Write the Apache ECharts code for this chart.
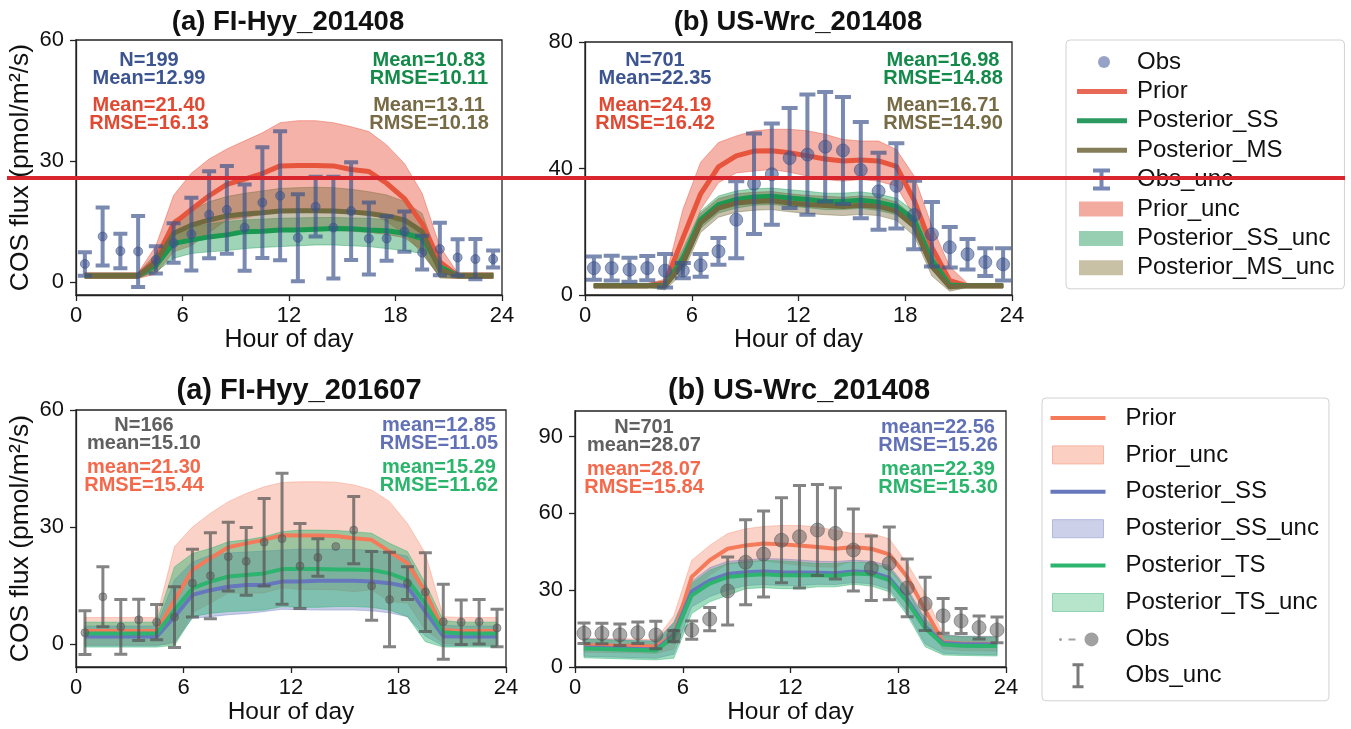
<!DOCTYPE html>
<html>
<head>
<meta charset="utf-8">
<script src="https://cdn.jsdelivr.net/npm/echarts@6/dist/echarts.min.js"></script>
<style>
  html, body { margin: 0; padding: 0; background: #fff; }
  #chart { width: 1351px; height: 729px; }
</style>
</head>
<body>
<div id="chart"></div>
<script>
// ---- shared axes ----
const hours = [0.5, 1.5, 2.5, 3.5, 4.5, 5.5, 6.5, 7.5, 8.5, 9.5, 10.5, 11.5,
               12.5, 13.5, 14.5, 15.5, 16.5, 17.5, 18.5, 19.5, 20.5, 21.5, 22.5, 23.5];
const xTicks = [0, 6, 12, 18, 24];
const yTicksHyy = [0, 30, 60];
const yTicksWrcTop = [0, 40, 80];
const yTicksWrcBottom = [0, 30, 60, 90];

// ---- FI-Hyy, 2014-08 (single-station vs multi-station runs) ----
const hyy14Obs    = [4.5, 11.3, 7.7, 7.6, 5.5, 9.7, 11.9, 16.7, 17.9, 13.5, 19.7, 21.4, 11.0, 18.7, 13.5, 17.6, 10.8, 10.8, 12.5, 7.3, 8.2, 6.1, 5.7, 5.7];
const hyy14ObsUnc = [2.9, 7.2, 4.3, 8.8, 3.4, 4.9, 9.0, 10.8, 10.9, 10.7, 13.7, 16.0, 10.8, 7.4, 12.6, 12.1, 8.9, 5.5, 5.0, 4.2, 6.5, 4.5, 5.0, 2.1];
const hyy14Prior   = [1.6, 1.6, 1.6, 1.6, 5.5, 14.5, 18.0, 21.4, 24.2, 25.5, 26.9, 28.8, 28.9, 28.9, 28.8, 27.9, 27.4, 24.5, 20.7, 14.5, 5.0, 1.6, 1.6, 1.6];
const hyy14PriorHi = [2.3, 2.3, 2.3, 2.3, 9.0, 21.5, 27.0, 30.5, 33.0, 35.0, 37.0, 39.5, 40.0, 40.0, 39.5, 38.5, 37.3, 34.0, 29.4, 22.0, 8.8, 2.3, 2.3, 2.3];
const hyy14PriorLo = [0.9, 0.9, 0.9, 0.9, 2.0, 7.5, 9.0, 12.3, 15.4, 16.0, 16.8, 18.1, 17.8, 17.8, 18.1, 17.3, 17.5, 15.0, 12.0, 7.0, 1.2, 0.9, 0.9, 0.9];
const hyy14SS   = [1.6, 1.6, 1.6, 1.6, 4.2, 9.6, 10.4, 11.2, 11.7, 12.5, 12.6, 12.9, 12.9, 13.1, 13.3, 13.2, 12.9, 12.7, 12.1, 10.8, 3.8, 1.6, 1.6, 1.6];
const hyy14SSHi = [2.1, 2.1, 2.1, 2.1, 6.0, 12.1, 13.7, 14.4, 15.0, 15.4, 15.6, 15.8, 15.9, 16.0, 16.0, 15.9, 15.8, 15.5, 14.8, 12.9, 5.0, 2.1, 2.1, 2.1];
const hyy14SSLo = [1.1, 1.1, 1.1, 1.1, 2.5, 5.9, 7.1, 7.5, 7.8, 8.3, 8.6, 8.8, 9.0, 9.2, 9.2, 9.0, 8.8, 8.3, 7.8, 7.1, 1.3, 1.1, 1.1, 1.1];
const hyy14MS   = [1.6, 1.6, 1.6, 1.6, 5.0, 12.1, 14.1, 15.4, 16.4, 16.9, 17.2, 17.6, 17.7, 17.7, 17.6, 17.4, 17.0, 16.4, 15.4, 12.5, 3.0, 1.6, 1.6, 1.6];
const hyy14MSHi = [2.3, 2.3, 2.3, 2.3, 7.0, 15.4, 17.8, 19.9, 21.2, 22.0, 22.6, 23.2, 23.4, 23.5, 23.4, 23.0, 22.4, 21.6, 20.0, 17.0, 5.0, 2.3, 2.3, 2.3];
const hyy14MSLo = [0.9, 0.9, 0.9, 0.9, 3.0, 9.2, 10.8, 11.5, 12.1, 12.5, 12.7, 12.9, 13.0, 13.0, 12.9, 12.6, 12.3, 11.8, 11.0, 7.9, 1.0, 0.9, 0.9, 0.9];

// ---- US-Wrc, 2014-08 (single-station vs multi-station runs) ----
const wrcAObs    = [8.5, 8.5, 8.0, 8.5, 7.7, 7.7, 9.4, 13.8, 23.8, 35.2, 38.2, 43.3, 44.4, 46.9, 45.7, 39.5, 32.8, 34.5, 25.3, 19.2, 15.1, 12.9, 10.4, 9.7];
const wrcAObsUnc = [3.7, 3.9, 3.8, 3.8, 5.3, 2.4, 3.6, 4.2, 12.2, 15.9, 16.0, 15.8, 19.0, 17.3, 16.9, 15.2, 12.2, 13.5, 10.8, 10.2, 6.4, 4.8, 4.4, 5.1];
const wrcAPrior   = [2.9, 2.9, 2.9, 2.9, 3.7, 18.0, 32.0, 40.5, 44.0, 45.5, 45.6, 45.0, 44.0, 43.0, 42.4, 42.7, 42.4, 40.7, 30.0, 15.0, 4.5, 2.9, 2.9, 2.9];
const wrcAPriorHi = [3.6, 3.6, 3.6, 3.6, 5.0, 27.0, 42.0, 48.2, 50.3, 51.9, 52.4, 52.4, 51.9, 50.8, 49.2, 48.7, 48.7, 46.0, 37.6, 21.7, 9.0, 3.6, 3.6, 3.6];
const wrcAPriorLo = [2.2, 2.2, 2.2, 2.2, 2.6, 10.0, 27.0, 35.5, 38.6, 39.2, 39.7, 38.8, 37.6, 36.5, 36.0, 36.5, 36.0, 34.4, 24.9, 11.1, 2.6, 2.2, 2.2, 2.2];
const wrcASS   = [2.9, 2.9, 2.9, 2.9, 3.2, 11.5, 23.8, 28.6, 30.2, 31.0, 31.2, 30.7, 30.2, 29.6, 29.6, 30.0, 29.3, 28.0, 23.8, 11.1, 3.2, 2.9, 2.9, 2.9];
const wrcASSHi = [3.4, 3.4, 3.4, 3.4, 4.5, 14.5, 26.5, 31.3, 32.9, 33.6, 33.8, 33.3, 32.8, 32.2, 32.2, 32.6, 31.9, 30.6, 26.5, 13.8, 4.5, 3.4, 3.4, 3.4];
const wrcASSLo = [2.4, 2.4, 2.4, 2.4, 2.0, 8.5, 21.1, 25.9, 27.5, 28.4, 28.6, 28.1, 27.6, 27.0, 27.0, 27.4, 26.7, 25.4, 21.1, 8.4, 1.9, 2.4, 2.4, 2.4];
const wrcAMS   = [2.9, 2.9, 2.9, 2.9, 3.0, 10.0, 22.8, 27.5, 29.1, 29.6, 29.8, 29.1, 28.6, 28.3, 28.0, 28.4, 28.0, 26.5, 21.7, 9.0, 2.6, 2.9, 2.9, 2.9];
const wrcAMSHi = [3.4, 3.4, 3.4, 3.4, 4.5, 13.2, 25.8, 30.5, 32.0, 32.5, 32.7, 32.0, 31.5, 31.2, 30.9, 31.3, 30.9, 29.4, 24.7, 12.0, 4.0, 3.4, 3.4, 3.4];
const wrcAMSLo = [2.4, 2.4, 2.4, 2.4, 1.6, 7.0, 19.8, 24.6, 26.2, 26.8, 27.0, 26.3, 25.8, 25.4, 25.1, 25.5, 25.1, 23.6, 18.7, 6.0, 1.2, 2.4, 2.4, 2.4];

// ---- FI-Hyy, 2016-07 (single-station vs two-station runs) ----
const hyy16Obs    = [2.9, 12.1, 4.4, 6.2, 5.6, 6.9, 15.6, 17.5, 22.4, 21.2, 26.1, 27.0, 20.0, 22.2, 25.0, 29.2, 14.9, 11.4, 15.6, 13.3, 5.7, 5.6, 5.7, 4.1];
const hyy16ObsUnc = [5.6, 7.7, 7.0, 5.3, 4.5, 7.8, 8.7, 11.0, 8.8, 8.7, 11.2, 16.8, 10.9, 4.8, null, 8.6, 8.8, 12.1, 4.2, 10.1, 9.6, 5.7, 5.7, 4.8];
const hyy16Prior   = [3.3, 3.3, 3.3, 3.3, 3.3, 11.3, 19.0, 22.0, 24.8, 25.8, 26.7, 27.9, 27.8, 27.8, 27.7, 27.1, 26.7, 23.7, 20.7, 13.4, 3.6, 3.3, 3.3, 3.3];
const hyy16PriorHi = [6.8, 6.8, 6.8, 6.8, 6.8, 25.0, 30.0, 33.5, 36.5, 38.6, 40.3, 41.4, 41.6, 41.6, 41.5, 40.8, 39.5, 36.5, 30.9, 23.2, 7.0, 6.8, 6.8, 6.8];
const hyy16PriorLo = [-0.2, -0.2, -0.2, -0.2, -0.2, 0.0, 8.0, 10.5, 13.1, 13.0, 13.1, 14.4, 14.0, 14.0, 13.9, 13.4, 13.9, 10.9, 10.5, 3.6, 0.2, -0.2, -0.2, -0.2];
const hyy16SS   = [1.9, 1.9, 1.9, 1.9, 1.9, 7.0, 12.6, 13.8, 14.7, 15.1, 15.1, 16.0, 16.0, 16.2, 16.2, 16.2, 16.0, 15.6, 14.7, 8.3, 2.0, 1.9, 1.9, 1.9];
const hyy16SSHi = [4.6, 4.6, 4.6, 4.6, 4.6, 16.5, 21.0, 22.8, 23.3, 23.6, 23.8, 24.1, 24.3, 24.3, 24.3, 24.2, 24.1, 23.5, 22.5, 13.5, 4.8, 4.6, 4.6, 4.6];
const hyy16SSLo = [-0.5, -0.5, -0.5, -0.5, -0.5, 0.5, 6.6, 7.0, 7.5, 7.8, 8.3, 8.9, 8.8, 8.7, 8.7, 8.7, 8.5, 8.0, 7.0, 2.0, -0.5, -0.5, -0.5, -0.5];
const hyy16TS   = [2.7, 2.7, 2.7, 2.7, 2.7, 8.7, 14.3, 16.0, 17.3, 17.7, 18.1, 19.2, 19.2, 19.2, 19.1, 19.1, 19.0, 18.1, 16.4, 10.4, 3.0, 2.7, 2.7, 2.7];
const hyy16TSHi = [5.6, 5.6, 5.6, 5.6, 5.6, 19.8, 23.2, 24.5, 26.2, 26.7, 27.5, 28.8, 29.2, 29.2, 29.1, 28.8, 28.4, 25.8, 23.7, 15.6, 6.0, 5.6, 5.6, 5.6];
const hyy16TSLo = [-0.8, -0.8, -0.8, -0.8, -0.8, -0.3, 7.0, 7.9, 8.3, 8.5, 8.7, 9.6, 9.4, 9.4, 9.6, 9.6, 9.4, 8.7, 7.0, 0.6, -0.8, -0.8, -0.8, -0.8];

// ---- US-Wrc, 2014-08 (single-station vs two-station runs) ----
const wrcBObs    = [13.2, 13.1, 12.6, 13.4, 12.5, 12.1, 14.4, 18.7, 29.7, 40.9, 44.1, 49.5, 50.9, 53.5, 52.2, 45.7, 38.6, 40.5, 30.9, 24.7, 20.0, 18.0, 15.4, 14.5];
const wrcBObsUnc = [4.0, 4.0, 4.2, 4.2, 5.4, 2.2, 3.6, 4.5, 13.3, 16.6, 16.8, 16.6, 20.0, 17.8, 17.8, 16.0, 12.6, 14.2, 11.3, 10.4, 6.8, 4.9, 4.5, 5.0];
const wrcBPrior   = [8.5, 8.4, 8.3, 8.2, 8.0, 12.5, 35.2, 41.7, 46.2, 47.5, 48.2, 47.9, 47.5, 46.9, 46.2, 46.9, 46.2, 44.0, 35.2, 22.2, 9.8, 9.2, 9.1, 9.0];
const wrcBPriorHi = [11.2, 11.1, 11.0, 10.9, 10.7, 20.0, 41.7, 47.5, 52.1, 54.0, 54.9, 55.3, 55.3, 54.7, 53.4, 52.1, 52.1, 50.1, 40.4, 28.7, 12.5, 12.0, 11.9, 11.8];
const wrcBPriorLo = [5.8, 5.7, 5.6, 5.5, 5.3, 7.0, 28.7, 35.9, 40.3, 41.0, 41.5, 40.5, 39.7, 39.1, 39.0, 41.7, 40.3, 37.9, 30.0, 15.7, 7.1, 6.4, 6.3, 6.2];
const wrcBSS   = [7.6, 7.4, 7.2, 7.0, 6.8, 12.5, 29.5, 33.8, 36.3, 37.0, 37.3, 37.0, 36.9, 36.8, 36.6, 37.3, 37.0, 34.8, 26.4, 15.8, 9.4, 9.0, 8.9, 8.8];
const wrcBSSHi = [11.0, 10.8, 10.6, 10.4, 10.2, 17.5, 33.5, 38.8, 41.3, 41.8, 42.4, 42.2, 41.8, 41.3, 41.2, 41.7, 41.4, 39.6, 30.8, 19.0, 12.6, 12.1, 12.0, 11.9];
const wrcBSSLo = [4.2, 4.0, 3.8, 3.6, 3.4, 5.0, 23.5, 27.5, 30.0, 31.8, 32.2, 31.8, 31.8, 32.3, 32.2, 33.0, 32.5, 30.4, 21.5, 9.0, 5.4, 5.0, 4.9, 4.8];
const wrcBTS   = [7.2, 7.0, 6.8, 6.6, 6.4, 11.8, 28.0, 32.6, 35.2, 35.8, 36.2, 35.8, 35.8, 35.8, 35.6, 36.5, 36.2, 33.9, 25.5, 15.1, 8.8, 8.3, 8.2, 8.2];
const wrcBTSHi = [10.8, 10.6, 10.4, 10.2, 10.0, 17.0, 32.6, 37.8, 40.4, 41.0, 41.7, 41.4, 41.0, 40.4, 40.4, 41.0, 40.6, 38.8, 30.0, 18.3, 12.3, 11.8, 11.7, 11.6];
const wrcBTSLo = [3.6, 3.4, 3.2, 3.0, 2.8, 3.4, 20.9, 25.5, 28.0, 30.6, 31.0, 30.6, 30.6, 31.3, 31.3, 32.3, 31.6, 29.4, 20.3, 7.9, 4.7, 4.5, 4.4, 4.3];

// ---- summary statistics printed inside each panel ----
const statsHyy14 = [['N=199', 'Mean=12.99'], ['Mean=21.40', 'RMSE=16.13'], ['Mean=10.83', 'RMSE=10.11'], ['Mean=13.11', 'RMSE=10.18']];
const statsWrcA  = [['N=701', 'Mean=22.35'], ['Mean=24.19', 'RMSE=16.42'], ['Mean=16.98', 'RMSE=14.88'], ['Mean=16.71', 'RMSE=14.90']];
const statsHyy16 = [['N=166', 'mean=15.10'], ['mean=21.30', 'RMSE=15.44'], ['mean=12.85', 'RMSE=11.05'], ['mean=15.29', 'RMSE=11.62']];
const statsWrcB  = [['N=701', 'mean=28.07'], ['mean=28.07', 'RMSE=15.84'], ['mean=22.56', 'RMSE=15.26'], ['mean=22.39', 'RMSE=15.30']];

// ---- styling ----
const FONT = "'Liberation Sans', Arial, Helvetica, sans-serif";
const AXIS_COLOR = '#222';
const TOP = {
  obs: 'rgba(59, 82, 139, 0.68)', obsText: '#3c5590',
  prior: '#e8553d', priorBand: 'rgba(232, 85, 61, 0.45)', priorText: '#e04a33',
  ss: '#1a9a50', ssBand: 'rgba(26, 154, 80, 0.42)', ssText: '#138a4a',
  ms: '#716a3e', msBand: 'rgba(120, 105, 60, 0.42)', msText: '#776b45'
};
const BOT = {
  obs: 'rgba(85, 85, 85, 0.62)', obsBar: 'rgba(85, 85, 85, 0.72)', obsText: '#606060',
  prior: '#f47a5a', priorBand: 'rgba(244, 122, 90, 0.34)', priorText: '#f4694b',
  ss: '#6777bd', ssBand: 'rgba(103, 119, 189, 0.38)', ssText: '#6271b6',
  ts: '#2db46e', tsBand: 'rgba(45, 180, 110, 0.45)', tsText: '#2bb56c'
};

const pairs = vals => hours.map((h, i) => [h, vals[i]]);

// Uncertainty envelope drawn as one polygon through the axis scales.
function bandSeries(name, ax, lo, hi, fill) {
  return {
    type: 'custom', name, xAxisIndex: ax, yAxisIndex: ax, z: 1, silent: true, clip: true,
    data: hours.map((h, i) => [h, lo[i], hi[i]]),
    encode: { x: 0, y: [1, 2] },
    renderItem(params, api) {
      if (params.dataIndex !== 0) return null;
      const upper = hours.map((h, i) => api.coord([h, hi[i]]));
      const lower = hours.map((h, i) => api.coord([h, lo[i]])).reverse();
      return {
        type: 'polygon',
        shape: { points: upper.concat(lower) },
        style: { fill, stroke: fill, lineWidth: 1 }
      };
    }
  };
}

function lineSeries(name, ax, vals, color, width) {
  return {
    type: 'line', name, xAxisIndex: ax, yAxisIndex: ax, z: 2, silent: true,
    data: pairs(vals), symbol: 'none', showSymbol: false,
    lineStyle: { color, width, join: 'round' }, itemStyle: { color }
  };
}

// Error bars: stem plus caps, one stroked path per hour.
function errorSeries(name, ax, obs, unc, color, width, capHalf) {
  return {
    type: 'custom', name, xAxisIndex: ax, yAxisIndex: ax, z: 3, silent: true,
    data: hours.map((h, i) => [h, obs[i], unc[i]]).filter(d => d[2] != null),
    encode: { x: 0, y: 1 },
    renderItem(params, api) {
      const x = api.value(0), v = api.value(1), u = api.value(2);
      const t = api.coord([x, v + u]);
      const b = api.coord([x, v - u]);
      const d = 'M' + (t[0] - capHalf) + ',' + t[1] + 'L' + (t[0] + capHalf) + ',' + t[1] +
                'M' + t[0] + ',' + t[1] + 'L' + b[0] + ',' + b[1] +
                'M' + (b[0] - capHalf) + ',' + b[1] + 'L' + (b[0] + capHalf) + ',' + b[1];
      return { type: 'path', shape: { pathData: d }, style: { fill: 'none', stroke: color, lineWidth: width } };
    }
  };
}

function obsSeries(name, ax, obs, color, size) {
  return {
    type: 'scatter', name, xAxisIndex: ax, yAxisIndex: ax, z: 4, silent: true,
    data: pairs(obs), symbol: 'circle', symbolSize: size,
    itemStyle: { color, borderColor: color, borderWidth: 1 }
  };
}

const grids = [
  { left: 76, top: 40, width: 426, height: 255 },
  { left: 585, top: 42, width: 427, height: 253 },
  { left: 76, top: 410, width: 430, height: 257 },
  { left: 575, top: 411, width: 431, height: 256 }
].map(g => Object.assign(g, {
  show: true, borderColor: AXIS_COLOR, borderWidth: 1.3, backgroundColor: 'transparent',
  containLabel: false, outerBoundsMode: 'none'
}));

const yRanges = [
  { min: -3.2, max: 60, ticks: yTicksHyy, name: 'COS flux (pmol/m²/s)' },
  { min: 0, max: 80, ticks: yTicksWrcTop, name: '' },
  { min: -5.9, max: 60, ticks: yTicksHyy, name: 'COS flux (pmol/m²/s)' },
  { min: 0, max: 100, ticks: yTicksWrcBottom, name: '' }
];

const xAxes = grids.map((g, i) => ({
  type: 'value', gridIndex: i, min: 0, max: 24,
  name: 'Hour of day', nameLocation: 'middle', nameGap: 31,
  nameTextStyle: { fontFamily: FONT, fontSize: i < 2 ? 25 : 24.5, color: '#111' },
  axisLine: { onZero: false, lineStyle: { color: AXIS_COLOR, width: 1.3 } },
  axisTick: { show: true, length: 6, customValues: xTicks, lineStyle: { color: AXIS_COLOR, width: 1.3 } },
  axisLabel: { fontFamily: FONT, fontSize: 22, color: '#111', margin: 10, customValues: xTicks },
  splitLine: { show: false }
}));

const yAxes = yRanges.map((r, i) => ({
  type: 'value', gridIndex: i, min: r.min, max: r.max,
  name: r.name, nameLocation: 'middle', nameGap: 42,
  nameTextStyle: { fontFamily: FONT, fontSize: 26.5, color: '#111' },
  axisLine: { onZero: false, lineStyle: { color: AXIS_COLOR, width: 1.3 } },
  axisTick: { show: true, length: 6, customValues: r.ticks, lineStyle: { color: AXIS_COLOR, width: 1.3 } },
  axisLabel: { fontFamily: FONT, fontSize: 22, color: '#111', margin: 12, customValues: r.ticks },
  splitLine: { show: false }
}));

const series = [
  // FI-Hyy 2014-08
  bandSeries('Prior_unc', 0, hyy14PriorLo, hyy14PriorHi, TOP.priorBand),
  bandSeries('Posterior_SS_unc', 0, hyy14SSLo, hyy14SSHi, TOP.ssBand),
  bandSeries('Posterior_MS_unc', 0, hyy14MSLo, hyy14MSHi, TOP.msBand),
  lineSeries('Prior', 0, hyy14Prior, TOP.prior, 5),
  lineSeries('Posterior_SS', 0, hyy14SS, TOP.ss, 5),
  lineSeries('Posterior_MS', 0, hyy14MS, TOP.ms, 5),
  errorSeries('Obs_unc', 0, hyy14Obs, hyy14ObsUnc, TOP.obs, 4, 7),
  obsSeries('Obs', 0, hyy14Obs, TOP.obs, 9),
  // US-Wrc 2014-08, top row
  bandSeries('Prior_unc', 1, wrcAPriorLo, wrcAPriorHi, TOP.priorBand),
  bandSeries('Posterior_SS_unc', 1, wrcASSLo, wrcASSHi, TOP.ssBand),
  bandSeries('Posterior_MS_unc', 1, wrcAMSLo, wrcAMSHi, TOP.msBand),
  lineSeries('Prior', 1, wrcAPrior, TOP.prior, 5),
  lineSeries('Posterior_SS', 1, wrcASS, TOP.ss, 5),
  lineSeries('Posterior_MS', 1, wrcAMS, TOP.ms, 5),
  errorSeries('Obs_unc', 1, wrcAObs, wrcAObsUnc, TOP.obs, 4, 8),
  obsSeries('Obs', 1, wrcAObs, TOP.obs, 13),
  // FI-Hyy 2016-07
  bandSeries('b:Prior_unc', 2, hyy16PriorLo, hyy16PriorHi, BOT.priorBand),
  bandSeries('b:Posterior_SS_unc', 2, hyy16SSLo, hyy16SSHi, BOT.ssBand),
  bandSeries('b:Posterior_TS_unc', 2, hyy16TSLo, hyy16TSHi, BOT.tsBand),
  lineSeries('b:Prior', 2, hyy16Prior, BOT.prior, 4),
  lineSeries('b:Posterior_SS', 2, hyy16SS, BOT.ss, 4),
  lineSeries('b:Posterior_TS', 2, hyy16TS, BOT.ts, 4),
  errorSeries('b:Obs_unc', 2, hyy16Obs, hyy16ObsUnc, BOT.obsBar, 3, 6.5),
  obsSeries('b:Obs', 2, hyy16Obs, BOT.obs, 8),
  // US-Wrc 2014-08, bottom row
  bandSeries('b:Prior_unc', 3, wrcBPriorLo, wrcBPriorHi, BOT.priorBand),
  bandSeries('b:Posterior_SS_unc', 3, wrcBSSLo, wrcBSSHi, BOT.ssBand),
  bandSeries('b:Posterior_TS_unc', 3, wrcBTSLo, wrcBTSHi, BOT.tsBand),
  lineSeries('b:Prior', 3, wrcBPrior, BOT.prior, 4),
  lineSeries('b:Posterior_SS', 3, wrcBSS, BOT.ss, 4),
  lineSeries('b:Posterior_TS', 3, wrcBTS, BOT.ts, 4),
  errorSeries('b:Obs_unc', 3, wrcBObs, wrcBObsUnc, BOT.obsBar, 3, 6.5),
  obsSeries('b:Obs', 3, wrcBObs, BOT.obs, 14)
];

// ---- legend icons (paths include the full icon box so shapes keep their size) ----
const topBox = 'M0,0M55,24';
const topIcons = {
  dot: 'path://' + topBox + 'M21,12A6,6,0,1,0,33,12A6,6,0,1,0,21,12Z',
  line: 'path://' + topBox + 'M0,9.5L50,9.5L50,14.5L0,14.5Z',
  ibeam: 'path://' + topBox + 'M16,1L33,1L33,5L26.5,5L26.5,19L33,19L33,23L16,23L16,19L22.5,19L22.5,5L16,5Z',
  patch: 'path://' + topBox + 'M2,4.5L46,4.5L46,19.5L2,19.5Z'
};
const botBox = 'M0,0M70,26';
const botIcons = {
  line: 'path://' + botBox + 'M0,11L55,11L55,15L0,15Z',
  patch: 'path://' + botBox + 'M2,4L53,4L53,22L2,22Z',
  obs: 'path://' + botBox + 'M8.5,13A1.5,1.5,0,1,0,11.5,13A1.5,1.5,0,1,0,8.5,13Z' +
       'M18,12L25,12L25,14L18,14Z' +
       'M34,13A7,7,0,1,0,48,13A7,7,0,1,0,34,13Z',
  ibeam: 'path://' + botBox + 'M22,0.5L33,0.5L33,3.5L29,3.5L29,22.5L33,22.5L33,25.5L22,25.5L22,22.5L26,22.5L26,3.5L22,3.5Z'
};

const legendCommon = {
  orient: 'vertical', selectedMode: false,
  backgroundColor: '#fff', borderColor: '#d2d2d2', borderWidth: 1, borderRadius: 4,
  textStyle: { fontFamily: FONT, fontSize: 24, color: '#111', lineHeight: 24 },
  itemStyle: { borderWidth: 0 }
};

const legends = [
  Object.assign({}, legendCommon, {
    left: 1066, top: 40, padding: [10, 10, 9, 11], itemGap: 5.4, itemWidth: 55, itemHeight: 24,
    data: [
      { name: 'Obs', icon: topIcons.dot, itemStyle: { color: '#7c8cb8' } },
      { name: 'Prior', icon: topIcons.line, itemStyle: { color: '#e86a56' } },
      { name: 'Posterior_SS', icon: topIcons.line, itemStyle: { color: '#2a9a60' } },
      { name: 'Posterior_MS', icon: topIcons.line, itemStyle: { color: '#857d58' } },
      { name: 'Obs_unc', icon: topIcons.ibeam, itemStyle: { color: '#7787b5' } },
      { name: 'Prior_unc', icon: topIcons.patch, itemStyle: { color: '#f3aba0' } },
      { name: 'Posterior_SS_unc', icon: topIcons.patch, itemStyle: { color: '#96cfb1' } },
      { name: 'Posterior_MS_unc', icon: topIcons.patch, itemStyle: { color: '#c9c1a6' } }
    ]
  }),
  Object.assign({}, legendCommon, {
    left: 1042, top: 398, padding: [7, 10, 12, 8], itemGap: 10.4, itemWidth: 70, itemHeight: 26,
    formatter: n => n.replace(/^b:/, ''),
    data: [
      { name: 'b:Prior', icon: botIcons.line, itemStyle: { color: BOT.prior } },
      { name: 'b:Prior_unc', icon: botIcons.patch, itemStyle: { color: '#fbcfc2', borderColor: '#f8b4a2', borderWidth: 1 } },
      { name: 'b:Posterior_SS', icon: botIcons.line, itemStyle: { color: BOT.ss } },
      { name: 'b:Posterior_SS_unc', icon: botIcons.patch, itemStyle: { color: '#ccd1e9', borderColor: '#b0b8df', borderWidth: 1 } },
      { name: 'b:Posterior_TS', icon: botIcons.line, itemStyle: { color: BOT.ts } },
      { name: 'b:Posterior_TS_unc', icon: botIcons.patch, itemStyle: { color: '#b6e5cc', borderColor: '#8fd4b0', borderWidth: 1 } },
      { name: 'b:Obs', icon: botIcons.obs, itemStyle: { color: '#8a8a8a' } },
      { name: 'b:Obs_unc', icon: botIcons.ibeam, itemStyle: { color: '#7a7a7a' } }
    ]
  })
];

// ---- titles, statistics and the overlay rule ----
function label(text, x, y, color, size, lineHeight) {
  return {
    type: 'text', x, y, z: 50, silent: true,
    style: {
      text, fill: color, fontFamily: FONT, fontSize: size, fontWeight: 'bold',
      align: 'center', verticalAlign: 'middle', lineHeight: lineHeight || size
    }
  };
}

function statBlock(stats, colors, leftX, rightX, y1, y2) {
  return [
    label(stats[0].join('\n'), leftX, y1, colors[0], 20, 18),
    label(stats[1].join('\n'), leftX, y2, colors[1], 20, 18),
    label(stats[2].join('\n'), rightX, y1, colors[2], 20, 18),
    label(stats[3].join('\n'), rightX, y2, colors[3], 20, 18)
  ];
}

const topColors = [TOP.obsText, TOP.priorText, TOP.ssText, TOP.msText];
const botColors = [BOT.obsText, BOT.priorText, BOT.ssText, BOT.tsText];

const graphics = [
  label('(a) FI-Hyy_201408', 288, 22, '#111', 27.5),
  label('(b) US-Wrc_201408', 798, 22, '#111', 27.5),
  label('(a) FI-Hyy_201607', 299, 391, '#111', 29),
  label('(b) US-Wrc_201408', 799, 391, '#111', 29)
]
  .concat(statBlock(statsHyy14, topColors, 149, 429, 69, 114))
  .concat(statBlock(statsWrcA, topColors, 655, 943, 69, 114))
  .concat(statBlock(statsHyy16, botColors, 144, 439, 434, 476))
  .concat(statBlock(statsWrcB, botColors, 644, 938, 436, 478))
  .concat([{
    type: 'line', z: 200, silent: true,
    shape: { x1: 7, y1: 178, x2: 1345, y2: 178 },
    style: { stroke: '#d9252d', lineWidth: 4 }
  }]);

const chart = echarts.init(document.getElementById('chart'), null, { renderer: 'canvas' });
chart.setOption({
  animation: false,
  backgroundColor: '#fff',
  textStyle: { fontFamily: FONT },
  grid: grids,
  xAxis: xAxes,
  yAxis: yAxes,
  legend: legends,
  series,
  graphic: { elements: graphics }
});
</script>
</body>
</html>
